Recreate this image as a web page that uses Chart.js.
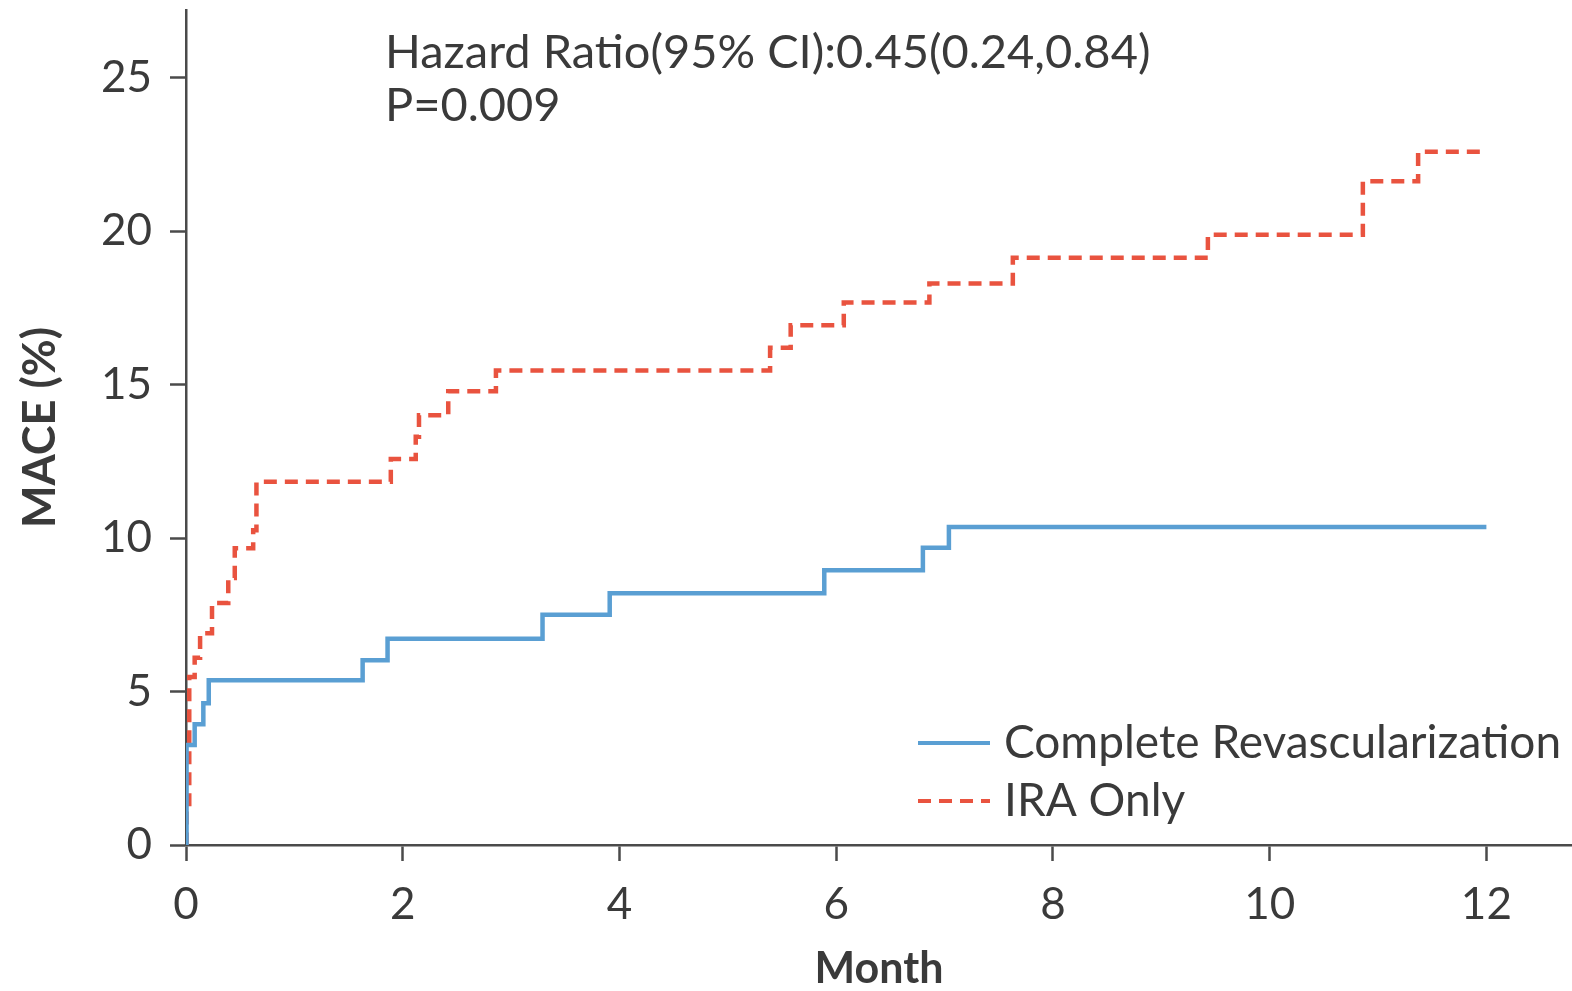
<!DOCTYPE html>
<html>
<head>
<meta charset="utf-8">
<script src="https://cdn.jsdelivr.net/npm/chart.js@4.4.1/dist/chart.umd.min.js"></script>
<style>
  html, body { margin: 0; padding: 0; background: #fff; overflow: hidden; }
  canvas { display: block; }
</style>
</head>
<body>
<canvas id="km" width="1572" height="991"></canvas>
<script>
// ── DATA ──────────────────────────────────────────────────────
const SERIES_NAMES = ['Complete Revascularization', 'IRA Only'];

// Complete Revascularization: step points (month, MACE %)
const crMonths = [0, 0.005, 0.08, 0.16, 0.21, 1.63, 1.86, 3.29, 3.91, 5.89, 6.8, 7.04, 12];
const crValues = [0, 3.26, 3.93, 4.62, 5.37, 6.02, 6.72, 7.5, 8.2, 8.95, 9.68, 10.36, 10.36];

// IRA Only: step points (month, MACE %)
const iraMonths = [0, 0.005, 0.03, 0.08, 0.13, 0.24, 0.39, 0.45, 0.62, 0.65, 1.89, 2.12, 2.15, 2.42, 2.86, 5.39, 5.58, 6.07, 6.86, 7.63, 9.43, 10.86, 11.37, 12];
const iraValues = [0, 1.2, 5.47, 6.1, 6.9, 7.88, 8.7, 9.67, 10.25, 11.83, 12.57, 13.3, 14.0, 14.78, 15.46, 16.2, 16.93, 17.67, 18.29, 19.13, 19.88, 21.62, 22.58, 22.58];

const xTicks = [0, 2, 4, 6, 8, 10, 12];
const yTicks = [0, 5, 10, 15, 20, 25];

const ANNOT_LINES = ['Hazard Ratio(95% CI):0.45(0.24,0.84)', 'P=0.009'];

// ── ESTILO ────────────────────────────────────────────────────
const TXT   = '#3a3a3a';
const AXIS  = '#4a4a4a';
const BLUE  = '#5a9fd3';
const RED   = '#e9533f';
const FONT  = 'Lato, "Open Sans", sans-serif';
const DASH  = [13, 8];

const toPts = (xs, ys) => xs.map((x, i) => ({ x, y: ys[i] }));

// sin relleno extra de etiquetas en los bordes
const noPad = s => { s.paddingTop = 0; s.paddingBottom = 0; s.paddingLeft = 0; s.paddingRight = 0; };

// leyenda + texto HR dibujados en el área del gráfico
const overlayPlugin = {
  id: 'overlay',
  afterDraw(chart) {
    const ctx = chart.ctx;
    ctx.save();
    ctx.fillStyle = TXT;
    ctx.font = `47px ${FONT}`;
    ctx.textBaseline = 'alphabetic';
    ctx.textAlign = 'left';
    ctx.fillText(ANNOT_LINES[0], 385, 68);
    ctx.fillText(ANNOT_LINES[1], 385, 121);

    ctx.font = `46px ${FONT}`;
    const items = [
      { label: SERIES_NAMES[0], color: BLUE, dash: [], y: 743 },
      { label: SERIES_NAMES[1], color: RED,  dash: DASH, y: 801 },
    ];
    items.forEach(it => {
      ctx.beginPath();
      ctx.setLineDash(it.dash);
      ctx.strokeStyle = it.color;
      ctx.lineWidth = 4;
      ctx.moveTo(918, it.y);
      ctx.lineTo(990, it.y);
      ctx.stroke();
      ctx.setLineDash([]);
      ctx.textBaseline = 'middle';
      ctx.fillText(it.label, 1004, it.y);
    });
    ctx.restore();
  }
};

new Chart(document.getElementById('km'), {
  type: 'line',
  data: {
    datasets: [
      {
        label: SERIES_NAMES[0],
        data: toPts(crMonths, crValues),
        stepped: 'before',
        borderColor: BLUE,
        borderWidth: 4.5,
        pointRadius: 0,
        fill: false,
      },
      {
        label: SERIES_NAMES[1],
        data: toPts(iraMonths, iraValues),
        stepped: 'before',
        borderColor: RED,
        borderWidth: 4.5,
        borderDash: DASH,
        pointRadius: 0,
        fill: false,
      }
    ]
  },
  options: {
    responsive: false,
    animation: false,
    devicePixelRatio: 1,
    layout: { padding: { top: 10, right: 0, left: 0, bottom: 0 } },
    plugins: {
      legend: { display: false },
      tooltip: { enabled: false },
    },
    scales: {
      x: {
        type: 'linear',
        min: 0, max: 12.79,
        afterFit: s => { s.height = 146; noPad(s); },
        afterBuildTicks: s => { s.ticks = xTicks.map(v => ({ value: v })); },
        ticks: { color: TXT, font: { family: FONT, size: 44 }, padding: 17, maxRotation: 0 },
        grid: { drawOnChartArea: false, drawTicks: true, tickLength: 16, tickWidth: 2.5, color: AXIS },
        border: { display: true, color: AXIS, width: 2.5 },
        title: { display: true, text: 'Month', color: TXT, font: { family: FONT, size: 43, weight: 'bold', lineHeight: 1.0 }, padding: { top: 0, bottom: 0 } },
      },
      y: {
        type: 'linear',
        min: 0, max: 27.2,
        afterFit: s => { s.width = 186; noPad(s); },
        afterBuildTicks: s => { s.ticks = yTicks.map(v => ({ value: v })); },
        ticks: { color: TXT, font: { family: FONT, size: 44 }, padding: 18 },
        grid: { drawOnChartArea: false, drawTicks: true, tickLength: 16, tickWidth: 2.5, color: AXIS },
        border: { display: true, color: AXIS, width: 2.5 },
        title: { display: true, text: 'MACE (%)', color: TXT, font: { family: FONT, size: 45, weight: 'bold', lineHeight: 1.0 }, padding: { top: 18, bottom: 0 } },
      }
    }
  },
  plugins: [overlayPlugin]
});
</script>
</body>
</html>
